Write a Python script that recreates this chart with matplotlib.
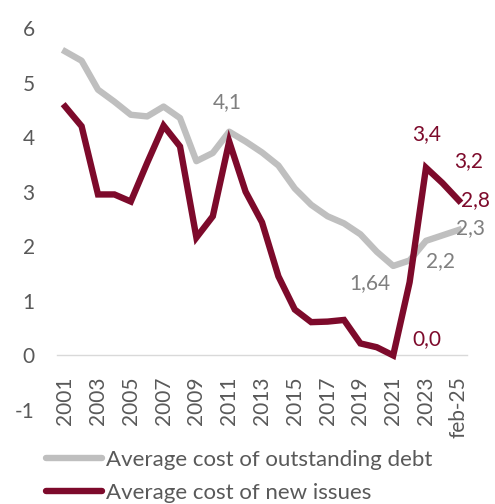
import matplotlib
matplotlib.use("Agg")
import matplotlib.pyplot as plt

plt.rcParams['font.family'] = ['Lato', 'DejaVu Sans']

categories = ["2001", "2002", "2003", "2004", "2005", "2006", "2007", "2008",
              "2009", "2010", "2011", "2012", "2013", "2014", "2015", "2016",
              "2017", "2018", "2019", "2020", "2021", "2022", "2023", "2024",
              "feb-25"]
outstanding = [5.57, 5.40, 4.87, 4.65, 4.41, 4.38, 4.56, 4.35, 3.56, 3.71,
               4.10, 3.92, 3.72, 3.48, 3.06, 2.76, 2.55, 2.42, 2.22, 1.90,
               1.64, 1.74, 2.10, 2.20, 2.30]
new_issues = [4.56, 4.20, 2.95, 2.95, 2.82, 3.53, 4.21, 3.83, 2.16, 2.55,
              3.92, 3.00, 2.44, 1.45, 0.84, 0.61, 0.62, 0.65, 0.22, 0.15,
              0.00, 1.34, 3.44, 3.16, 2.84]
tick_labels = ["2001", "2003", "2005", "2007", "2009", "2011", "2013", "2015",
               "2017", "2019", "2021", "2023", "feb-25"]

# (series, index, decimals, pixel offset of label from the point)
value_labels = [
    ("gray", 10, 1, (-2, 30)),
    ("gray", 20, 2, (-23, -17)),
    ("gray", 23, 1, (-2, -26)),
    ("gray", 24, 1, (12, 2)),
    ("red", 20, 1, (34, 16)),
    ("red", 22, 1, (1, 34)),
    ("red", 23, 1, (26, 22)),
    ("red", 24, 1, (17, 0)),
]

GRAY = "#bfbfbf"
GRAY_TEXT = "#7f7f7f"
RED = "#7d0a2b"
TEXT = "#595959"

fig = plt.figure(figsize=(4.95, 5.04), dpi=100)
ax = fig.add_axes([57 / 495, 1 - 410 / 504, 410 / 495, 382 / 504])

# category axis crosses the value axis at zero
for side in ["top", "right", "left"]:
    ax.spines[side].set_visible(False)
ax.spines["bottom"].set_position(("data", 0))
ax.spines["bottom"].set_color("#d9d9d9")
ax.spines["bottom"].set_linewidth(1.0)
ax.spines["bottom"].set_zorder(1)

x = list(range(len(categories)))
ax.plot(x, outstanding, color=GRAY, lw=4.6, solid_joinstyle="round",
        label="Average cost of outstanding debt", zorder=3)
ax.plot(x, new_issues, color=RED, lw=4.6, solid_joinstyle="miter",
        label="Average cost of new issues", zorder=4)

ax.set_xlim(-0.5, len(categories) - 0.5)
ax.set_ylim(-1, 6)
ax.set_yticks(range(-1, 7))
ax.set_yticklabels([str(v) for v in range(-1, 7)])

ax.set_xticks(x[::2])
ax.set_xticklabels(tick_labels)

ax.tick_params(axis="y", length=0, pad=16, labelsize=15, labelcolor=TEXT)
ax.tick_params(axis="x", length=0, pad=15, labelsize=15, labelcolor=TEXT,
               labelrotation=90)
for lbl in ax.get_xticklabels():
    lbl.set_va("top")
    lbl.set_ha("center")

series = {"gray": (outstanding, GRAY_TEXT), "red": (new_issues, RED)}
for key, idx, dec, (dx, dy) in value_labels:
    vals, col = series[key]
    txt = f"{vals[idx]:.{dec}f}".replace(".", ",")
    ax.annotate(txt, (idx, vals[idx]), xytext=(dx, dy),
                textcoords="offset pixels", ha="center", va="center",
                fontsize=15, color=col, zorder=5)

leg = fig.legend(loc="upper left", bbox_to_anchor=(46 / 495, 1 - 450 / 504),
                 frameon=False, fontsize=16, handlelength=2.5,
                 handletextpad=0.2, labelspacing=0.58, borderpad=0,
                 borderaxespad=0)
for t in leg.get_texts():
    t.set_color(TEXT)
for h in leg.get_lines():
    h.set_solid_capstyle("round")
    h.set_linewidth(4.6)

fig.savefig("out.png", dpi=100)
